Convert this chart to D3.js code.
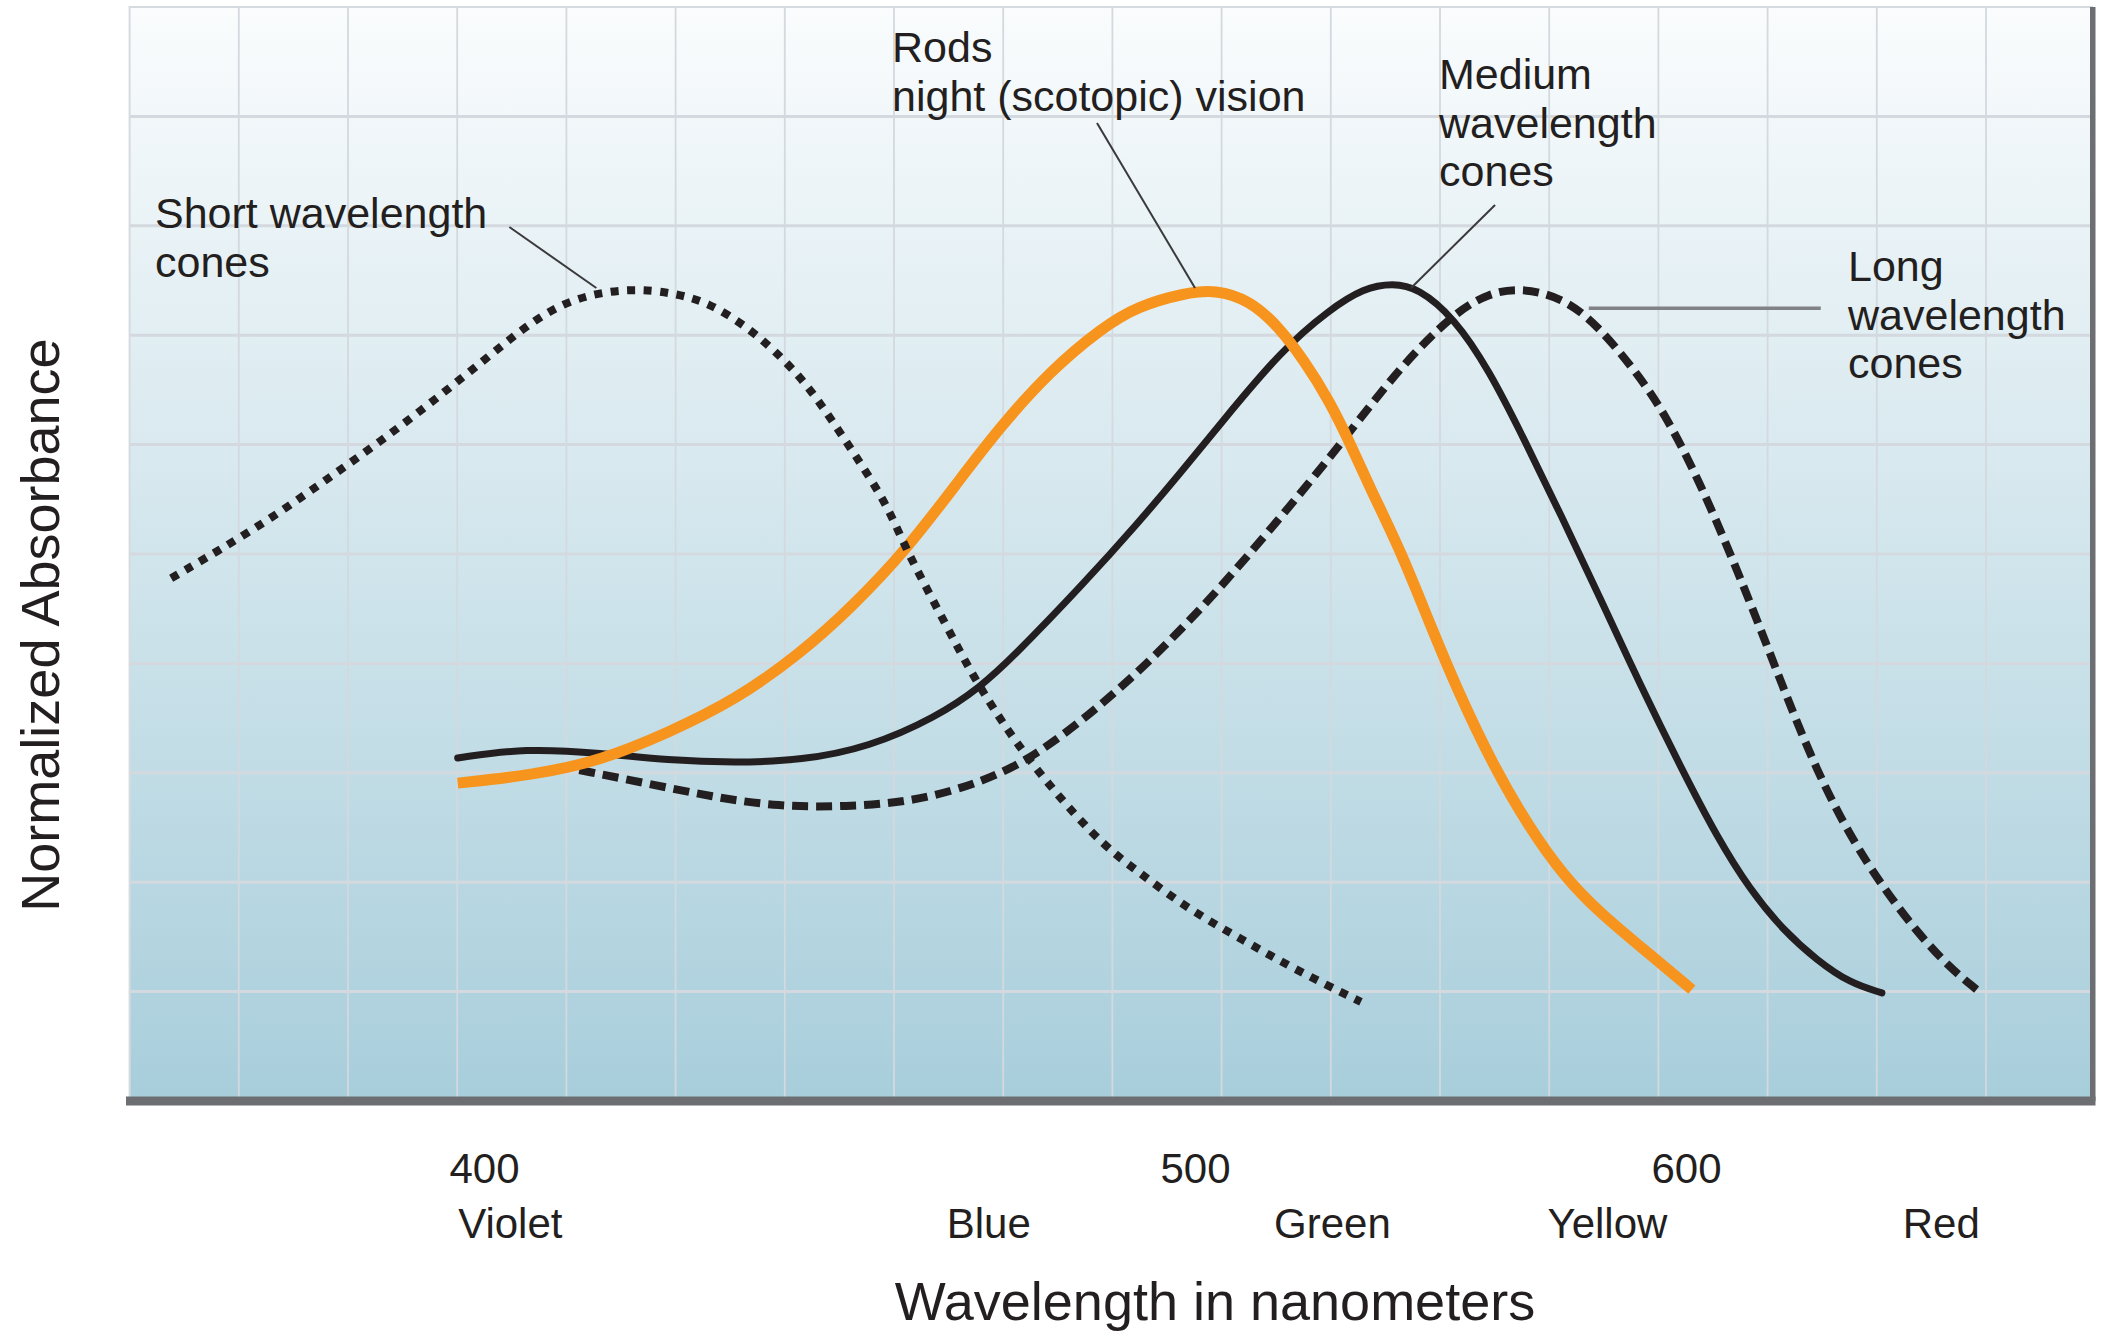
<!DOCTYPE html>
<html>
<head>
<meta charset="utf-8">
<script src="https://cdn.jsdelivr.net/npm/d3@7"></script>
<style>
  html, body { margin: 0; padding: 0; background: #ffffff; }
  svg { display: block; }
  text { font-family: "Liberation Sans", Arial, Helvetica, sans-serif; fill: #231f20; }
</style>
</head>
<body>
<svg id="chart" width="2107" height="1331"></svg>
<script>
// ---- Absorbance spectra (wavelength in nm, absorbance normalized to peak = 1) ----
const shortWl  = [356.0, 362.3, 370.3, 377.8, 385.4, 393.0, 400.4, 407.0, 412.9, 420.5, 426.7, 431.6, 436.7, 440.8, 445.3, 449.2, 453.3, 456.8, 459.4, 462.9, 466.8, 469.9, 476.1, 486.1, 491.7, 499.2, 509.8, 520.6, 533.8];
const shortAbs = [0.643, 0.675, 0.718, 0.764, 0.811, 0.862, 0.914, 0.961, 0.989, 1.000, 0.994, 0.982, 0.954, 0.924, 0.883, 0.834, 0.780, 0.731, 0.678, 0.620, 0.555, 0.506, 0.423, 0.321, 0.284, 0.235, 0.198, 0.161, 0.122];

const rodWl  = [396.3, 407.0, 416.5, 425.9, 435.3, 444.3, 451.8, 459.4, 466.8, 472.4, 479.5, 486.9, 492.0, 498.7, 504.1, 511.2, 517.1, 522.2, 527.3, 531.6, 535.8, 541.8, 547.7, 553.4, 560.7, 568.0, 575.2, 582.5, 592.7, 601.2];
const rodAbs = [0.391, 0.401, 0.419, 0.453, 0.493, 0.549, 0.608, 0.678, 0.763, 0.827, 0.897, 0.951, 0.978, 0.994, 0.998, 0.985, 0.952, 0.911, 0.862, 0.809, 0.752, 0.678, 0.589, 0.506, 0.413, 0.337, 0.276, 0.231, 0.180, 0.137];

const mediumWl  = [396.3, 405.8, 416.5, 425.9, 435.3, 444.7, 454.1, 463.6, 469.8, 474.4, 484.4, 492.0, 497.9, 505.3, 517.7, 527.3, 534.4, 540.3, 545.4, 552.7, 559.9, 567.2, 574.5, 582.5, 590.8, 599.4, 606.3, 613.0, 619.8, 626.7, 633.4, 639.9];
const mediumAbs = [0.422, 0.434, 0.428, 0.419, 0.416, 0.419, 0.435, 0.472, 0.509, 0.546, 0.637, 0.711, 0.772, 0.834, 0.924, 0.973, 1.000, 1.006, 1.000, 0.964, 0.899, 0.812, 0.721, 0.619, 0.510, 0.405, 0.325, 0.260, 0.210, 0.173, 0.145, 0.133];

const longWl  = [413.4, 422.8, 432.1, 441.5, 450.9, 460.3, 469.8, 477.4, 486.6, 493.7, 497.9, 505.3, 520.0, 530.8, 541.8, 552.7, 559.9, 566.4, 574.5, 581.7, 590.6, 596.1, 602.9, 609.6, 615.1, 620.2, 626.7, 633.4, 640.1, 647.0, 653.7, 659.2];
const longAbs = [0.407, 0.391, 0.374, 0.362, 0.362, 0.368, 0.391, 0.423, 0.485, 0.542, 0.579, 0.632, 0.736, 0.817, 0.903, 0.969, 0.994, 1.000, 0.989, 0.957, 0.891, 0.841, 0.760, 0.665, 0.582, 0.502, 0.405, 0.326, 0.263, 0.208, 0.164, 0.137];

// ---- Axis labels ----
const wavelengthTicks  = [400, 500, 600];
const colorNames       = ["Violet", "Blue", "Green", "Yellow", "Red"];
const colorWavelengths = [403.7, 471, 528, 584, 652];

// ---- Callouts: text lines and the curve point (nm, absorbance) each leader touches ----
const calloutLines  = [["Short wavelength", "cones"], ["Rods", "night (scotopic) vision"], ["Medium", "wavelength", "cones"], ["Long", "wavelength", "cones"]];
const calloutAnchorWl  = [415.8, 500.0, 544.0, 580.2];
const calloutAnchorAbs = [1.000, 1.000, 1.000, 0.975];

// ---- Layout ----
const panel = { left: 129.6, top: 7, right: 2092, bottom: 1101 };
const cellW = 109.2, cellH = 109.4;
const ink = "#231f20", orange = "#f7941d", axisGray = "#6d6e71";

const svg = d3.select("#chart");

// wavelength axis is compressed toward the red end
const x = d3.scaleLinear().domain([400, 500, 600]).range([484, 1195, 1686]);
const y = d3.scaleLinear().domain([0, 1]).range([panel.bottom, 288]);

// background gradient
const defs = svg.append("defs");
const grad = defs.append("linearGradient").attr("id", "panelFill")
  .attr("x1", 0).attr("y1", 0).attr("x2", 0).attr("y2", 1);
grad.append("stop").attr("offset", "0%").attr("stop-color", "#fafcfd");
grad.append("stop").attr("offset", "100%").attr("stop-color", "#a8cedb");

svg.append("rect")
  .attr("x", panel.left).attr("y", panel.top)
  .attr("width", panel.right - panel.left).attr("height", panel.bottom - panel.top)
  .attr("fill", "url(#panelFill)")
  .attr("stroke", "#d6dbe0").attr("stroke-width", 2);

// grid
const grid = svg.append("g").attr("stroke", "#d3d9de");
grid.selectAll("line.v")
  .data(d3.range(1, 18).map(k => panel.left + k * cellW))
  .join("line").attr("class", "v")
  .attr("x1", d => d).attr("x2", d => d)
  .attr("y1", panel.top).attr("y2", panel.bottom)
  .attr("stroke-width", 1.8);
grid.selectAll("line.h")
  .data(d3.range(1, 10).map(k => panel.top + k * cellH))
  .join("line").attr("class", "h")
  .attr("x1", panel.left).attr("x2", panel.right)
  .attr("y1", d => d).attr("y2", d => d)
  .attr("stroke-width", 3);

// frame: right edge and heavy baseline
svg.append("rect").attr("x", panel.right - 2).attr("y", panel.top)
  .attr("width", 5.5).attr("height", panel.bottom - panel.top).attr("fill", axisGray);
svg.append("rect").attr("x", 126).attr("y", panel.bottom - 4.5)
  .attr("width", panel.right + 3.5 - 126).attr("height", 9).attr("fill", axisGray);

// curves (B-spline smoothing through the sampled spectra)
const zip = (a, b) => a.map((v, i) => [v, b[i]]);
const line = d3.line()
  .x(d => x(d[0])).y(d => y(d[1]))
  .curve(d3.curveBasis);

const series = [
  { pts: zip(mediumWl, mediumAbs), stroke: ink,    width: 7,   dash: null,    cap: "round" },
  { pts: zip(longWl, longAbs),     stroke: ink,    width: 8,   dash: "16 8",  cap: "butt" },
  { pts: zip(rodWl, rodAbs),       stroke: orange, width: 11,  dash: null,    cap: "butt" },
  { pts: zip(shortWl, shortAbs),   stroke: ink,    width: 8,   dash: "8 8.5", cap: "butt" }
];

svg.append("g").selectAll("path")
  .data(series)
  .join("path")
  .attr("d", d => line(d.pts))
  .attr("fill", "none")
  .attr("stroke", d => d.stroke)
  .attr("stroke-width", d => d.width)
  .attr("stroke-dasharray", d => d.dash)
  .attr("stroke-linecap", d => d.cap)
  .attr("stroke-linejoin", "round");

// callout leaders and text
const leaderOffsets = [[-87, -61], [-98, -165], [84, -83], [232, 0]];
const leaderStyle = [
  { c: "#3a3a3c", w: 2 }, { c: "#3a3a3c", w: 2 }, { c: "#3a3a3c", w: 2 }, { c: "#808285", w: 3.5 }
];
const calloutPos = [[155, 228], [892, 62], [1439, 89], [1848, 281]];
const lineGap = 48.7;

const callouts = svg.append("g");
calloutLines.forEach((lines, i) => {
  const ax = x(calloutAnchorWl[i]), ay = y(calloutAnchorAbs[i]);
  callouts.append("line")
    .attr("x1", ax).attr("y1", ay)
    .attr("x2", ax + leaderOffsets[i][0]).attr("y2", ay + leaderOffsets[i][1])
    .attr("stroke", leaderStyle[i].c).attr("stroke-width", leaderStyle[i].w);
  const t = callouts.append("text")
    .attr("x", calloutPos[i][0]).attr("y", calloutPos[i][1])
    .attr("font-size", 43);
  lines.forEach((s, j) => {
    t.append("tspan").attr("x", calloutPos[i][0]).attr("dy", j === 0 ? 0 : lineGap).text(s);
  });
});

// x axis: wavelength ticks
const xAxis = svg.append("g")
  .attr("transform", `translate(0,${panel.bottom})`)
  .call(d3.axisBottom(x).tickValues(wavelengthTicks).tickSize(0).tickFormat(d3.format("d")));
xAxis.select(".domain").remove();
xAxis.selectAll("text")
  .attr("y", 82).attr("dy", null)
  .attr("font-size", 42)
  .attr("font-family", "\"Liberation Sans\", Arial, sans-serif")
  .attr("fill", ink);

// colour names under the wavelengths
svg.append("g").selectAll("text")
  .data(colorNames)
  .join("text")
  .attr("x", (d, i) => x(colorWavelengths[i]))
  .attr("y", 1238)
  .attr("text-anchor", "middle")
  .attr("font-size", 42)
  .text(d => d);

// axis titles
svg.append("text")
  .attr("x", 1215).attr("y", 1320)
  .attr("text-anchor", "middle")
  .attr("font-size", 54)
  .text("Wavelength in nanometers");

svg.append("text")
  .attr("transform", "translate(59,625) rotate(-90)")
  .attr("text-anchor", "middle")
  .attr("font-size", 54)
  .text("Normalized Absorbance");
</script>
</body>
</html>
